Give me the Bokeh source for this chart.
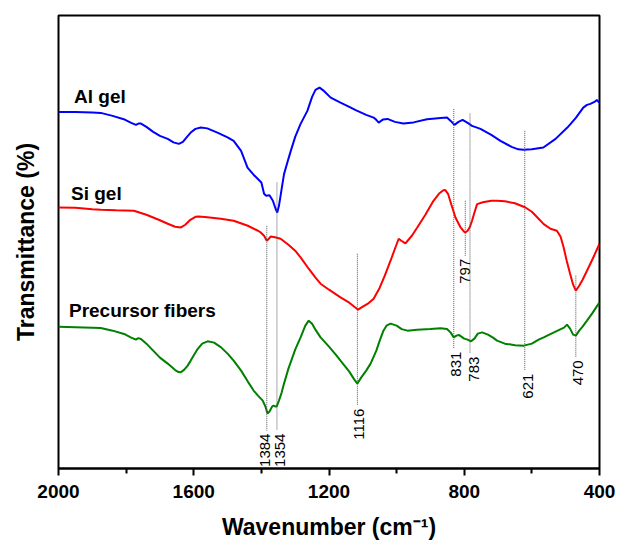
from math import pi
from bokeh.plotting import figure
from bokeh.models import Range1d, FixedTicker, ColumnDataSource
from bokeh.core.properties import value
from bokeh.embed import file_html
from bokeh.resources import INLINE

# ---- data (wavenumber cm-1, transmittance in arbitrary units, offset curves) ----
al_wn = [2000, 1950, 1900, 1875, 1840, 1807, 1785, 1771, 1762, 1756, 1740, 1720, 1700, 1677,
         1660, 1644, 1632, 1620, 1609, 1595, 1579, 1560, 1530, 1500, 1482, 1460, 1441, 1420,
         1400, 1392, 1386, 1376, 1366, 1358, 1353, 1348, 1340, 1333, 1320, 1313, 1300, 1284,
         1264, 1250, 1240, 1228, 1215, 1195, 1166, 1140, 1121, 1090, 1068, 1060, 1053, 1040,
         1027, 1005, 980, 950, 910, 870, 851, 840, 829, 817, 805, 790, 777, 752, 720, 693,
         660, 640, 625, 600, 566, 530, 495, 470, 448, 437, 427, 415, 408, 401]
al_t = [369, 369, 368.5, 368, 365, 361.7, 358, 356, 357.5, 357.3, 354, 349, 345, 342,
        338.5, 337, 339, 344, 348.3, 352, 353.3, 352.5, 348.3, 343.5, 340, 330, 313.3, 305,
        298.3, 287, 285, 285.5, 280, 272, 268.3, 275, 292, 306.7, 322, 330, 344, 357,
        370, 384, 391, 393.3, 390, 383.3, 378.3, 374, 370.7, 366, 363.3, 361, 358.3, 361.5,
        362, 359, 357.3, 358.5, 361.7, 363, 363.3, 360, 356, 359, 361, 358, 355, 352, 346, 340,
        334, 331.5, 331, 331.5, 333.3, 342, 353.3, 363, 373.3, 376, 377, 379, 381, 378.3]

si_wn = [2000, 1950, 1900, 1875, 1830, 1777, 1740, 1700, 1677, 1655, 1638, 1625, 1610, 1595,
         1585, 1560, 1520, 1482, 1440, 1410, 1402, 1392, 1384, 1378, 1372, 1360, 1343, 1320,
         1300, 1284, 1260, 1240, 1225, 1200, 1166, 1140, 1125, 1114, 1100, 1085, 1068, 1050,
         1035, 1018, 1005, 994, 986, 974, 955, 939, 915, 891, 875, 862, 856, 848, 838, 826,
         812, 800, 797, 790, 783, 777, 770, 762, 745, 720, 703, 680, 650, 619, 600, 580, 565,
         545, 526, 515, 506, 497, 487, 478, 470, 460, 450, 437, 420, 400]
si_t = [273.3, 273, 271.5, 271, 270.5, 270, 266, 260.5, 257, 254, 253.3, 256, 261, 264,
        264.3, 263.5, 262, 260, 255, 250, 248.3, 245, 240, 242, 244.3, 243.5, 242, 236,
        230, 223.3, 212, 203, 197, 191, 183.3, 178, 174, 171, 174, 177, 182, 193,
        205, 220, 232, 242, 240, 237.3, 245, 253.3, 266, 280, 287, 290.5, 290.7, 287, 276, 263.3,
        254, 249, 248.3, 250, 254, 260, 268, 276.7, 278.5, 280, 280, 279.5, 277.5, 273.3, 269, 262, 256.7,
        252, 250, 244, 233.3, 220, 207, 196, 190, 195, 201, 210, 222, 237]

pf_wn = [2000, 1950, 1900, 1875, 1840, 1806, 1785, 1771, 1764, 1756, 1740, 1720, 1700, 1677,
         1655, 1645, 1638, 1628, 1618, 1609, 1590, 1575, 1559, 1540, 1520, 1500, 1482, 1460,
         1440, 1423, 1410, 1396, 1388, 1382, 1376, 1368, 1364, 1358, 1355, 1348, 1340, 1333,
         1320, 1300, 1284, 1270, 1260, 1250, 1240, 1225, 1200, 1180, 1166, 1140, 1125, 1116,
         1105, 1090, 1077, 1060, 1050, 1039, 1030, 1018, 1000, 985, 968, 940, 900, 870, 851,
         840, 831, 823, 816, 800, 790, 780, 770, 760, 747, 730, 715, 703, 680, 650, 624, 600,
         580, 565, 530, 505, 496, 487, 478, 470, 460, 450, 437, 420, 400]
pf_t = [154, 153.5, 153, 152.7, 150, 146.7, 143, 141, 142.5, 141.7, 137, 130, 123, 117,
        110.5, 108.5, 108.3, 111, 115, 120, 131, 137, 139.3, 138, 133.5, 127, 120, 110,
        99, 90, 85, 80, 74, 67, 69, 74, 75, 74, 74, 80, 88, 97,
        112, 131, 143.3, 155, 160, 157, 151, 143.3, 134, 126, 120, 109, 101, 97,
        103, 110, 117, 130, 140, 150, 155, 157, 155, 151.5, 150, 151, 151.7, 152.5, 151.7,
        148, 143.3, 145, 145.7, 142, 141, 139.3, 142, 147, 148.3, 146, 143, 140, 137, 135.5, 135, 137,
        141, 143.3, 149, 153, 156, 152, 146, 145, 150, 154, 160, 168, 178.3]

# peak markers: wavenumber, top and bottom of the guide line
peak_wn = [1384, 1354, 1116, 831, 797, 783, 621, 470]
peak_top = [255, 298.3, 227, 372, 280, 367.3, 350, 205]
peak_bottom = [50, 50, 75, 132, 225, 127, 110, 123.3]
peak_text = ["1384", "1354", "1116", "831", "797", "783", "621", "470"]

names = ["Al gel", "Si gel", "Precursor fibers"]
name_wn = [1954, 1963, 1969]
name_t = [384.5, 287, 170.5]

x_ticks = [2000, 1600, 1200, 800, 400]
x_minor = [1800, 1400, 1000, 600]

# small horizontal nudges (px) of the rotated peak labels
label_dx = [-1.5, 3, 2, 2, 0, 4, 3, 2]

FONT = "Liberation Sans"

p = figure(width=617, height=542, output_backend="svg", toolbar_location=None,
           x_range=Range1d(2000, 400), y_range=Range1d(12, 465.5),
           min_border_left=58, min_border_right=18, min_border_top=15, min_border_bottom=74,
           background_fill_color="white", border_fill_color="white")
p.grid.visible = False
p.outline_line_color = "black"
p.outline_line_width = 2

# curves
p.line(al_wn, al_t, line_color="#0000ff", line_width=2)
p.line(si_wn, si_t, line_color="#ff0000", line_width=2)
p.line(pf_wn, pf_t, line_color="#008000", line_width=2)

# guide lines
p.segment(x0=peak_wn, y0=peak_top, x1=peak_wn, y1=peak_bottom,
          line_color="#555555", line_width=1, line_dash="1 1")
lab_src = ColumnDataSource(dict(x=peak_wn, y=[b - 3 for b in peak_bottom],
                                text=peak_text, dx=label_dx))
p.text(x="x", y="y", text="text", x_offset="dx", source=lab_src, angle=pi / 2,
       text_align="right", text_baseline="middle",
       text_font=value(FONT), text_font_size="15px", text_color="black")

# sample names
p.text(x=name_wn, y=name_t, text=names, text_align="left", text_baseline="middle",
       text_font=value(FONT), text_font_size="19px", text_font_style="bold", text_color="black")

# x axis
xa = p.xaxis[0]
xa.ticker = FixedTicker(ticks=x_ticks, minor_ticks=x_minor)
xa.axis_label = "Wavenumber (cm\u207b\u00b9)"
xa.axis_label_text_font = FONT
xa.axis_label_text_font_size = "23px"
xa.axis_label_text_font_style = "bold"
xa.axis_label_text_color = "black"
xa.axis_label_standoff = 13
xa.major_label_text_font = FONT
xa.major_label_text_font_size = "19px"
xa.major_label_text_font_style = "bold"
xa.major_label_text_color = "black"
xa.major_label_standoff = 9
xa.axis_line_width = 2
xa.axis_line_color = "black"
xa.major_tick_line_width = 2
xa.minor_tick_line_width = 2
xa.major_tick_line_color = "black"
xa.minor_tick_line_color = "black"
xa.major_tick_out = 7
xa.major_tick_in = 0
xa.minor_tick_out = 5
xa.minor_tick_in = 0

# y axis (label only)
ya = p.yaxis[0]
ya.ticker = FixedTicker(ticks=[])
ya.axis_line_color = None
ya.major_tick_line_color = None
ya.minor_tick_line_color = None
ya.major_label_standoff = 0
ya.axis_label = "Transmittance (%)"
ya.axis_label_text_font = FONT
ya.axis_label_text_font_size = "23px"
ya.axis_label_text_font_style = "bold"
ya.axis_label_text_color = "black"
ya.axis_label_standoff = 20

open("out.html", "w").write(file_html(p, INLINE))
